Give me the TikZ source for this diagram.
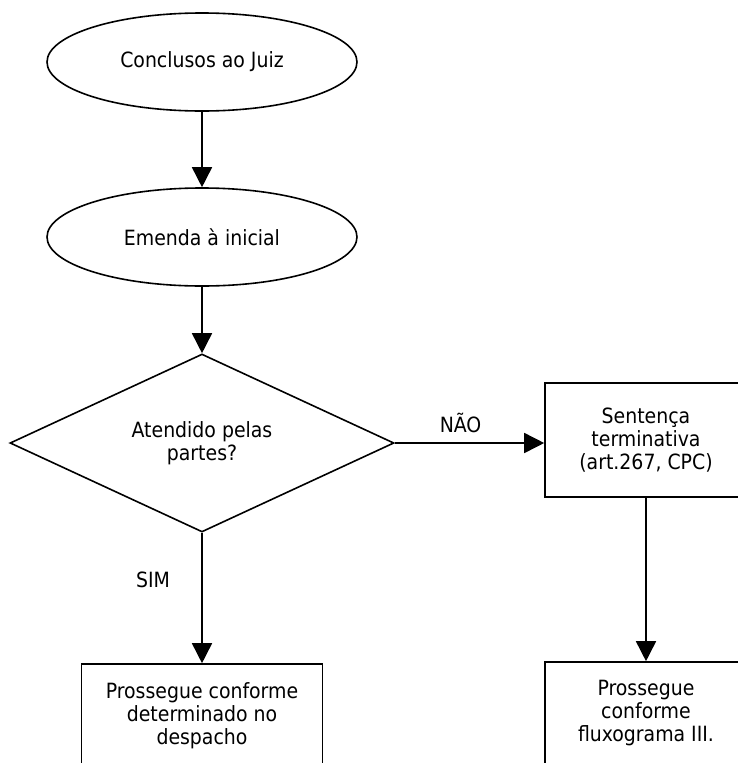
\documentclass[tikz,border=0pt]{standalone}
\usepackage{fontspec}
\setmainfont{DejaVu Sans Condensed}
\usetikzlibrary{shapes.geometric,arrows.meta}
\begin{document}
\begin{tikzpicture}[x=1pt,y=-1pt,
  every node/.style={font=\fontsize{21}{23}\selectfont, align=center},
  flow/.style={line width=1.6pt, -{Triangle[length=20pt,width=20pt]}},
  oval/.style={draw, line width=1.6pt, ellipse, minimum width=310pt, minimum height=98pt, inner sep=0pt},
  decision/.style={draw, line width=1.6pt, diamond, aspect=2.16, minimum width=384pt, minimum height=178pt, inner sep=0pt},
  box/.style={draw, line width=1.6pt, rectangle, inner sep=0pt}]
\useasboundingbox (0,0) rectangle (738,763);
\clip (0,0) rectangle (738,763);

% start and amendment ovals
\node[oval] (juiz) at (202,62) {Conclusos ao Juiz};
\node[oval] (emenda) at (202,237) {Emenda à inicial};

% decision
\node[decision] (atendido) at (202,443) {Atendido pelas\\partes?};

% outcome boxes
\node[box, minimum width=202pt, minimum height=114pt] (sentenca) at (646,440) {Sentença\\terminativa\\(art.267, CPC)};
\node[box, minimum width=241pt, minimum height=104pt] (segue) at (202,716) {Prossegue conforme\\determinado no\\despacho};
\node[box, minimum width=202pt, minimum height=102pt] (fluxo) at (646,713) {Prossegue\\conforme\\fluxograma III.};

% connectors
\draw[flow] (juiz) -- (emenda);
\draw[flow] (emenda) -- (atendido);
\draw[flow] (atendido.east) -- (atendido.east -| sentenca.west) node[pos=0.44, above=6pt] {NÃO};
\draw[flow] (atendido.south) -- (segue.north);
\draw[flow] (sentenca.south) -- (fluxo.north);
\node (sim) at (153,580) {SIM};
\end{tikzpicture}
\end{document}
